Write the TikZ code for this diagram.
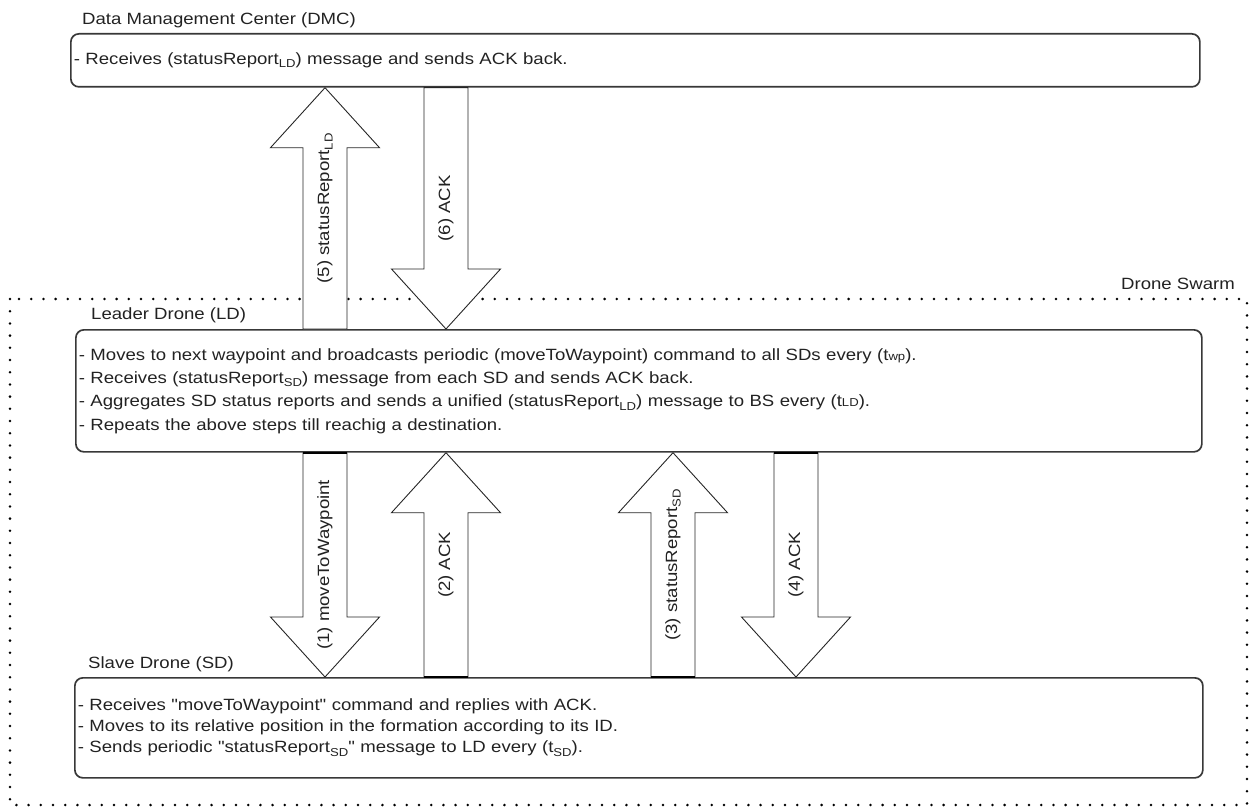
\documentclass[tikz,border=0pt]{standalone}
\usepackage{fontspec}
\setmainfont{Liberation Sans}[FakeStretch=1.14, Ligatures=TeXOff]
\usetikzlibrary{calc}

\definecolor{boxgray}{HTML}{383838}
\definecolor{textgray}{HTML}{222222}

% lowered subscript and same-baseline small index
\newcommand{\lowsub}[1]{\raisebox{-0.4ex}{\fontsize{11.5}{12}\selectfont #1}}
\newcommand{\smallidx}[1]{{\fontsize{11.5}{12}\selectfont #1}}

\tikzset{
  panel/.style={draw=boxgray, line width=1.7pt, rounded corners=8pt,
    anchor=north west, inner xsep=3pt, inner ysep=0pt, align=left,
    text=textgray, font=\fontsize{16.3}{23.3}\selectfont},
  heading/.style={inner sep=0pt, text=textgray, font=\fontsize{16.3}{20}\selectfont},
  blockarr/.style={draw=black!85, line width=0.9pt, fill=white, line join=miter},
  capline/.style={draw=black, line width=2.4pt},
  arrlabel/.style={rotate=90, inner sep=0pt, text=textgray,
    font=\fontsize{16.3}{20}\selectfont},
  swarm/.style={draw=black, line width=2.8pt, line cap=round,
    dash pattern=on 0pt off 12.2pt},
}

% block arrow: #1 tail, #2 tip, #3 label
\newcommand{\fatarrow}[3]{%
  \draw[blockarr]
    ($(#1)+(-22,0)$) -- ($(#2)!60pt!(#1)+(-22,0)$) -- ($(#2)!60pt!(#1)+(-54.5,0)$)
    -- (#2) -- ($(#2)!60pt!(#1)+(54.5,0)$) -- ($(#2)!60pt!(#1)+(22,0)$)
    -- ($(#1)+(22,0)$) -- cycle;
  \path (#1) -- (#2) node[midway, arrlabel] {#3};
}
\newcommand{\arrowcap}[1]{\draw[capline] ($(#1)+(-22,0)$) -- ($(#1)+(22,0)$);}

\begin{document}
\begin{tikzpicture}[x=1pt, y=-1pt]
\useasboundingbox (0,0) rectangle (1254,808);

% drone swarm boundary
\draw[swarm] (10,299) rectangle (1247,805);
\node[heading, anchor=east] (swarmlbl) at (1235,284) {Drone Swarm};

% data management center
\node[heading, anchor=west] (dmclbl) at (82,20) {Data Management Center (DMC)};
\node[panel, text width=1123pt, minimum height=53pt] (dmc) at (70,33)
  {- Receives (statusReport\lowsub{LD}) message and sends ACK back.};

% leader drone
\node[heading, anchor=west] (ldlbl) at (91,315) {Leader Drone (LD)};
\node[panel, text width=1120pt, minimum height=122pt] (ld) at (75,329)
  {- Moves to next waypoint and broadcasts periodic (moveToWaypoint) command to all SDs every (t\smallidx{wp}).\\
   - Receives (statusReport\lowsub{SD}) message from each SD and sends ACK back.\\
   - Aggregates SD status reports and sends a unified (statusReport\lowsub{LD}) message to BS every (t\smallidx{LD}).\\
   - Repeats the above steps till reachig a destination.};

% slave drone
\node[heading, anchor=west] (sdlbl) at (88,664) {Slave Drone (SD)};
\node[panel, text width=1122pt, minimum height=100pt,
      font=\fontsize{16.3}{21}\selectfont] (sd) at (74,677)
  {- Receives "moveToWaypoint" command and replies with ACK.\\
   - Moves to its relative position in the formation according to its ID.\\
   - Sends periodic "statusReport\lowsub{SD}" message to LD every (t\lowsub{SD}).};

% arrow columns
\coordinate (cA) at (325,0);
\coordinate (cB) at (446,0);
\coordinate (cC) at (673,0);
\coordinate (cD) at (796,0);

% LD <-> DMC
\fatarrow{cA |- ld.north}{cA |- dmc.south}{(5) statusReport\lowsub{LD}}
\fatarrow{cB |- dmc.south}{cB |- ld.north}{(6) ACK}

% LD <-> SD
\fatarrow{cA |- ld.south}{cA |- sd.north}{(1) moveToWaypoint}
\fatarrow{cB |- sd.north}{cB |- ld.south}{(2) ACK}
\fatarrow{cC |- sd.north}{cC |- ld.south}{(3) statusReport\lowsub{SD}}
\fatarrow{cD |- ld.south}{cD |- sd.north}{(4) ACK}
\arrowcap{cA |- ld.south}
\arrowcap{cB |- sd.north}
\arrowcap{cC |- sd.north}
\arrowcap{cD |- ld.south}
\end{tikzpicture}
\end{document}
